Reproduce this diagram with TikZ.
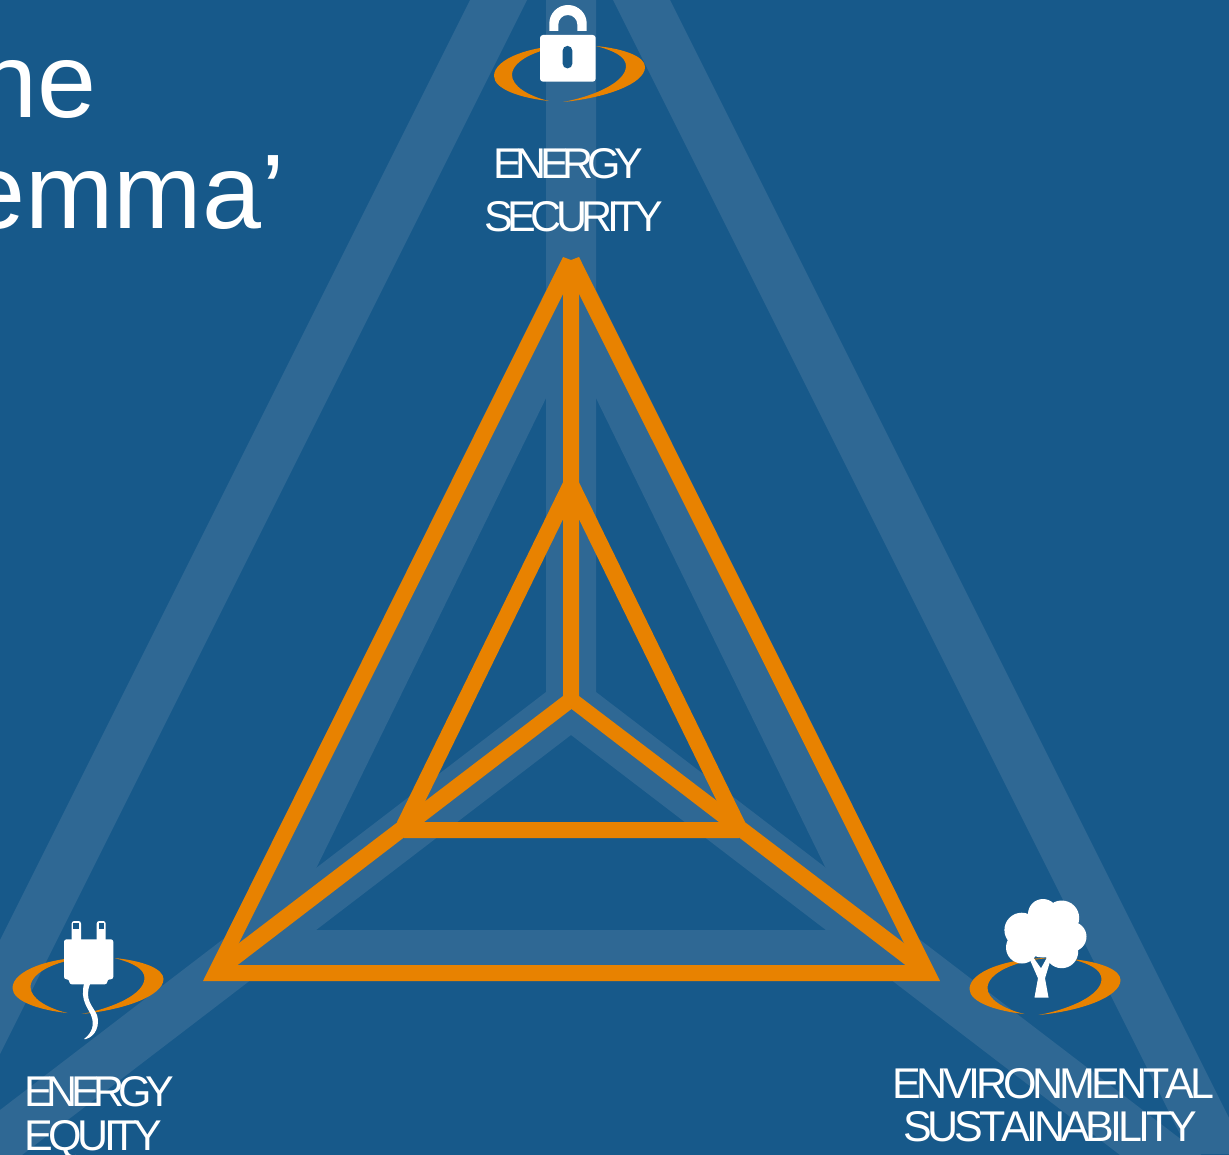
\documentclass[tikz,border=0pt]{standalone}
\usepackage{fontspec}
\setmainfont{Liberation Sans}
\newfontfamily\lblA[LetterSpace=-14.6,Kerning=Off]{Liberation Sans}
\newfontfamily\lblB[LetterSpace=-12.8,Kerning=Off]{Liberation Sans}
\newfontfamily\lblC[LetterSpace=-10.4,Kerning=Off]{Liberation Sans}
\newfontfamily\lblD[LetterSpace=-9.4,Kerning=Off]{Liberation Sans}
\definecolor{bgblue}{HTML}{17598A}
\definecolor{lightband}{HTML}{2F6894}
\definecolor{orangeline}{HTML}{E88200}
\tikzset{
  band/.style={fill=lightband,draw=none},
  orangepoly/.style={fill=orangeline,draw=none},
  iconwhite/.style={fill=white,draw=none},
  lbl/.style={anchor=base west,inner sep=0pt,text=white},
  lblsize/.style={font=#1\fontsize{43}{43}\selectfont},
  titletext/.style={anchor=base east,inner sep=0pt,text=white,font=\fontsize{106}{106}\selectfont},
}
\newcommand{\swooshat}[2]{%
  \begin{scope}[shift={(#1,#2)}]
    \fill[orangeline] (5,-27) .. controls (-40,-27) and (-76,-13) .. (-76,4)
      .. controls (-76,17) and (-50,26) .. (-21,29)
      .. controls (-42,24) and (-58,14) .. (-58,3)
      .. controls (-58,-12) and (-30,-25) .. (5,-27) -- cycle;
    \fill[orangeline] (26,-26) .. controls (56,-23) and (75,-15) .. (75,-5)
      .. controls (75,12) and (35,26) .. (-7,30)
      .. controls (25,24) and (56,10) .. (56,-6)
      .. controls (56,-15) and (45,-21) .. (26,-26) -- cycle;
  \end{scope}}
\begin{document}
\begin{tikzpicture}[x=1pt,y=-1pt]
\useasboundingbox (0,0) rectangle (1229,1155);
\clip (0,0) rectangle (1229,1155);
\fill[bgblue] (0,0) rectangle (1229,1155);
% big triangle bands
\fill[band] (470,0) -- (527,0) -- (-50,1154) -- (-107,1154) -- cycle;
\fill[band] (613,0) -- (670,0) -- (1247,1154) -- (1190,1154) -- cycle;
% spokes
\fill[band] (546,0) -- (596,0) -- (596,692) -- (1229,1176) -- (1120,1155) -- (571,735) -- (22,1155) -- (0,1155) -- (0,1110) -- (546,692) -- cycle;
% middle triangle band
\fill[band,even odd rule] (571,240) -- (940,981) -- (203,981) -- cycle
   (571,347) -- (856,930) -- (286,930) -- cycle;
% orange outer triangle
\fill[orangepoly,even odd rule] (563,257) -- (571,260) -- (579,257) -- (940,981) -- (203,981) -- cycle
   (571,278) -- (915,965) -- (228,965) -- cycle;
% orange inner triangle
\fill[orangepoly,even odd rule] (571,466) -- (745,822) -- (739,838) -- (404,838) -- (397,822) -- cycle
   (571,503) -- (727,822) -- (415,822) -- cycle;
% orange Y
\fill[orangepoly] (563,262) -- (579,262) -- (579,696) -- (921,956) -- (921,977) -- (571.5,709) -- (222,977) -- (222,956) -- (563,696) -- cycle;
% icons
\swooshat{570}{72}
\swooshat{88.5}{984}
\swooshat{1045.5}{985}
% lock
\fill[iconwhite,even odd rule] (549.3,31) -- (549.3,23.5) arc[start angle=180,end angle=0,x radius=18.7,y radius=-18.5] -- (586.7,31) -- (577.3,31) -- (577.3,24.5) arc[start angle=0,end angle=180,x radius=9.5,y radius=-9.5] -- (558.3,31) -- cycle;
\fill[iconwhite,rounded corners=3pt] (540,35) rectangle (595.7,81.7);
\fill[bgblue,rounded corners=4.5pt] (562.7,46) rectangle (572.3,68.3);
% plug
\fill[iconwhite,rounded corners=2.5pt] (71.7,945) -- (71.7,921) -- (81,921) -- (81,945) -- cycle;
\fill[iconwhite,rounded corners=2.5pt] (96.7,945) -- (96.7,921) -- (105.7,921) -- (105.7,945) -- cycle;
\fill[bgblue] (73.3,923.3) rectangle (79.3,928.7);
\fill[bgblue] (98.7,923.3) rectangle (104,928.7);
\fill[iconwhite,rounded corners=2.5pt] (64,939.3) -- (113.3,939.3) -- (113.3,979.3) -- (107.3,979.3) -- (107.3,984.3) -- (69.3,984.3) -- (69.3,979.3) -- (64,979.3) -- cycle;
\fill[iconwhite] (84,984) .. controls (80,1000) and (88,1008) .. (91,1015)
  .. controls (95,1025) and (92,1033) .. (84,1039)
  -- (86,1039) .. controls (96,1036) and (100,1025) .. (97,1015)
  .. controls (93,1006) and (84,1000) .. (90,984) -- cycle;
% tree
\fill[iconwhite] (1021.7,930) circle[radius=17.3];
\fill[iconwhite] (1043,914) circle[radius=15];
\fill[iconwhite] (1061.7,918) circle[radius=17.5];
\fill[iconwhite] (1071.5,936.7) circle[radius=15];
\fill[iconwhite] (1061.7,951.7) circle[radius=16.5];
\fill[iconwhite] (1022,947.5) circle[radius=16];
\fill[iconwhite] (1043,933) circle[radius=24.5];
\fill[iconwhite] (1034.5,997.5) -- (1048.5,997.5) -- (1045,978.3) -- (1050,961.7) -- (1046.7,958) -- (1041,968.3) -- (1033,957) -- (1030,960) -- (1038,978.3) -- cycle;
% labels
\node[lbl,lblsize=\lblA] (sec1) at (493,179) {ENERGY};
\node[lbl,lblsize=\lblB] (sec2) at (484,231.7) {SECURITY};
\node[lbl,lblsize=\lblA] (eq1) at (24,1106) {ENERGY};
\node[lbl,lblsize=\lblC] (eq2) at (24,1150) {EQUITY};
\node[lbl,lblsize=\lblD] (env1) at (892,1098.3) {ENVIRONMENTAL};
\node[lbl,lblsize=\lblD] (env2) at (903,1141.7) {SUSTAINABILITY};
% title
\node[titletext] (title1) at (96.5,118) {he};
\node[titletext] (title2) at (285,229) {emma’};
\end{tikzpicture}
\end{document}
